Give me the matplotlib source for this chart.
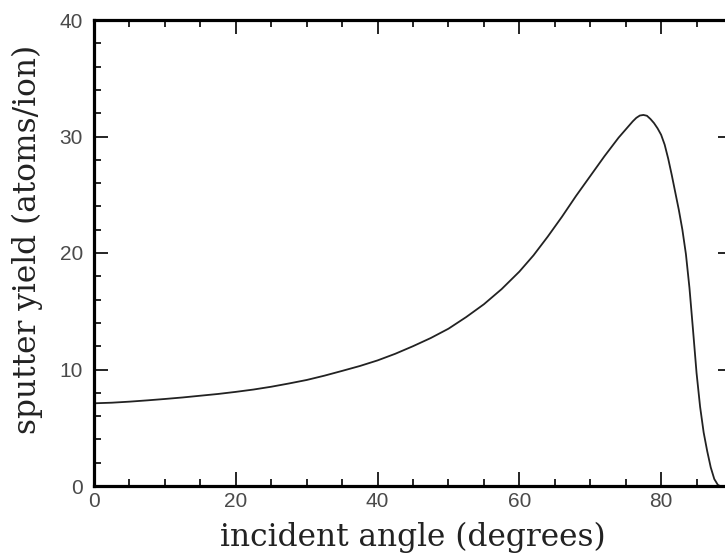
import numpy as np
import matplotlib
matplotlib.use("Agg")
from matplotlib import pyplot as plt
from matplotlib.ticker import MultipleLocator

# sputter yield vs incident angle
angolo = [0, 2.5, 5, 7.5, 10, 12.5, 15, 17.5, 20, 22.5, 25, 27.5, 30, 32.5, 35,
          37.5, 40, 42.5, 45, 47.5, 50, 52.5, 55, 57.5, 60, 62, 64, 66, 68, 70,
          72, 73, 74, 75, 76, 76.5, 77, 77.5, 78, 78.5, 79, 79.5, 80, 80.5, 81,
          81.5, 82, 82.5, 83, 83.5, 84, 84.5, 85, 85.5, 86, 86.5, 87, 87.5, 88,
          88.3]
resa = [7.10, 7.15, 7.24, 7.35, 7.47, 7.60, 7.75, 7.90, 8.08, 8.28, 8.52, 8.80,
        9.10, 9.47, 9.88, 10.30, 10.78, 11.35, 12.0, 12.7, 13.5, 14.5, 15.6,
        16.9, 18.4, 19.8, 21.4, 23.1, 24.9, 26.6, 28.3, 29.1, 29.9, 30.6, 31.3,
        31.6, 31.8, 31.85, 31.78, 31.5, 31.15, 30.7, 30.15, 29.3, 28.1, 26.7,
        25.2, 23.7, 22.0, 19.9, 17.0, 13.4, 9.7, 6.8, 4.6, 3.0, 1.6, 0.6, 0.1,
        0.0]

x_ticks = [0, 20, 40, 60, 80]
y_ticks = [0, 10, 20, 30, 40]

fig = plt.figure(figsize=(7.25, 5.6), dpi=100)
ax = fig.add_axes([94/725, 74/560, 638/725, 466/560])

ax.plot(angolo, resa, color='#222222', linewidth=1.3)

ax.set_xlim(0, 90)
ax.set_ylim(0, 40)
ax.set_xticks(x_ticks)
ax.set_yticks(y_ticks)
ax.xaxis.set_minor_locator(MultipleLocator(5))
ax.yaxis.set_minor_locator(MultipleLocator(2))

for s in ax.spines.values():
    s.set_linewidth(2.3)
    s.set_color('black')

ax.tick_params(which='both', direction='in', top=True, right=True,
               colors='black', labelcolor='#4a4a4a', labelsize=15)
ax.tick_params(which='major', length=10, width=1.2)
ax.tick_params(which='minor', length=5, width=1.2)
ax.tick_params(axis='x', pad=4)
ax.tick_params(axis='y', pad=8)
for lab in ax.get_xticklabels() + ax.get_yticklabels():
    lab.set_family('Liberation Sans')

ax.set_xlabel('incident angle (degrees)', family='DejaVu Serif', fontsize=22.5,
              color='#222222', labelpad=8)
ax.set_ylabel('sputter yield (atoms/ion)', family='DejaVu Serif', fontsize=22.5,
              color='#222222', labelpad=6)
ax.yaxis.set_label_coords(-0.08, 0.53)

fig.savefig('out.png', dpi=100)
